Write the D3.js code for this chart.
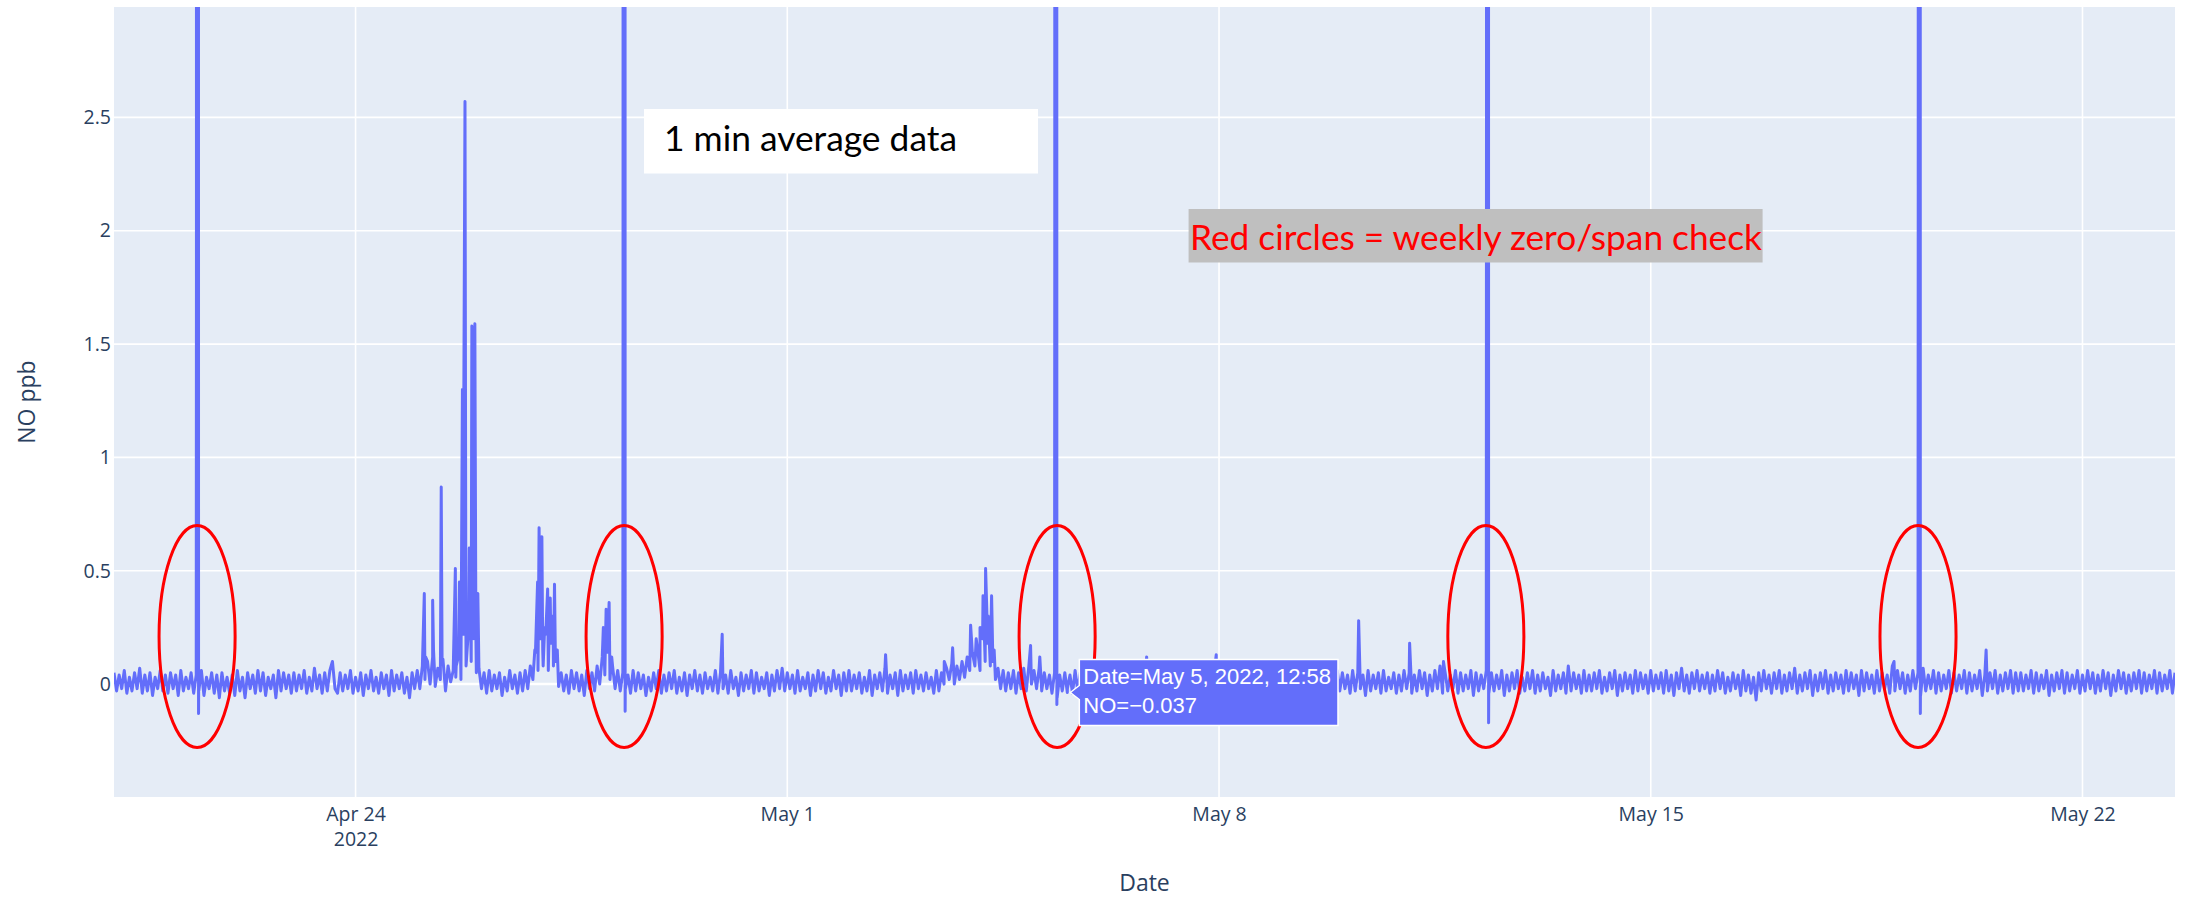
<!DOCTYPE html>
<html>
<head>
<meta charset="utf-8">
<script src="https://cdn.jsdelivr.net/npm/d3@7"></script>
<style>
  body { margin: 0; background: #fff; }
  svg { display: block; }
</style>
</head>
<body>
<div id="chart"></div>
<script>
// NO ppb, 1 min average data, read off the picture as the upper/lower edge of the noise band, one value per hour
const startTime = "2022-04-20 02:00";
const noHourly = [
  0.05,-0.03,0.04,-0.02,0.06,-0.04,0.03,-0.03,0.05,-0.02,0.07,-0.04,0.04,-0.03,0.05,-0.05,0.03,-0.02,0.06,-0.03,0.04,-0.04,
  0.05,-0.02,0.04,-0.05,0.06,-0.03,0.03,-0.02,0.05,-0.04,0.04,-0.03,0.06,-0.05,0.03,-0.02,0.05,-0.04,0.04,-0.06,0.05,-0.03,0.03,-0.04,
  0.04,-0.05,0.06,-0.03,0.03,-0.06,0.05,-0.02,0.04,-0.04,0.06,-0.03,0.05,-0.05,0.03,-0.02,0.04,-0.06,0.06,-0.03,0.05,-0.02,0.04,-0.04,
  0.05,-0.03,0.04,-0.02,0.06,-0.04,0.03,-0.03,0.07,-0.02,0.04,-0.04,0.05,-0.03,0.06,0.10,-0.02,-0.04,0.05,-0.03,0.04,-0.02,0.06,-0.04,
  0.03,-0.03,0.05,-0.05,0.04,-0.02,0.06,-0.03,0.03,-0.04,0.05,-0.02,0.04,-0.05,0.06,-0.03,0.04,-0.02,0.05,-0.04,0.03,-0.06,0.05,-0.02,
  0.06,-0.02,0.08,0.02,0.10,0.00,0.12,-0.01,0.07,0.02,0.11,-0.03,0.08,0.01,0.06,0.03,0.12,0.02,0.22,0.08,0.25,0.10,0.20,0.05,
  0.07,-0.02,0.05,-0.04,0.06,-0.03,0.04,-0.02,0.05,-0.05,0.03,-0.03,0.06,-0.02,0.04,-0.04,0.05,-0.03,0.06,-0.02,0.08,0.02,0.14,0.06,
  0.20,0.08,0.22,0.06,0.18,0.08,0.10,-0.01,0.05,-0.03,0.04,-0.04,0.06,-0.02,0.05,-0.03,0.04,-0.05,0.06,-0.02,0.05,-0.03,0.08,0.00,
  0.12,0.04,0.14,0.02,0.08,-0.02,0.06,-0.03,0.05,-0.02,0.04,-0.04,0.06,-0.03,0.05,-0.02,0.04,-0.05,0.03,-0.03,0.05,-0.02,0.06,-0.04,
  0.04,-0.03,0.05,-0.02,0.06,-0.04,0.03,-0.03,0.05,-0.05,0.04,-0.02,0.06,-0.03,0.04,-0.04,0.05,-0.02,0.03,-0.03,0.06,-0.04,0.05,-0.02,
  0.04,-0.04,0.06,-0.02,0.03,-0.05,0.05,-0.03,0.04,-0.02,0.06,-0.04,0.05,-0.03,0.03,-0.02,0.05,-0.05,0.04,-0.03,0.06,-0.02,0.07,-0.03,
  0.05,-0.02,0.04,-0.04,0.06,-0.03,0.03,-0.02,0.05,-0.05,0.04,-0.03,0.06,-0.02,0.05,-0.04,0.03,-0.03,0.06,-0.02,0.04,-0.05,0.05,-0.03,
  0.06,-0.03,0.04,-0.02,0.05,-0.04,0.03,-0.03,0.06,-0.05,0.04,-0.02,0.05,-0.03,0.07,-0.04,0.04,-0.02,0.05,-0.05,0.06,-0.03,0.04,-0.02,
  0.05,-0.04,0.06,-0.02,0.04,-0.03,0.05,-0.02,0.03,-0.04,0.06,-0.03,0.05,0.00,0.07,0.02,0.09,0.00,0.08,0.02,0.10,0.03,0.12,0.06,
  0.14,0.08,0.16,0.06,0.20,0.10,0.18,0.08,0.10,0.02,0.07,-0.02,0.06,-0.03,0.05,-0.02,0.06,-0.04,0.05,-0.02,0.07,-0.03,0.08,0.00,
  0.06,-0.02,0.07,-0.03,0.05,-0.02,0.04,-0.04,0.05,-0.06,0.04,-0.03,0.05,-0.02,0.04,-0.04,0.06,-0.03,0.05,-0.02,0.04,-0.03,0.05,-0.04,
  0.05,-0.03,0.04,-0.02,0.06,-0.04,0.05,-0.03,0.03,-0.05,0.06,-0.02,0.04,-0.03,0.05,-0.04,0.06,-0.02,0.04,-0.03,0.05,-0.05,0.03,-0.02,
  0.06,-0.03,0.04,-0.05,0.05,-0.02,0.03,-0.04,0.06,-0.03,0.05,-0.02,0.04,-0.04,0.06,-0.03,0.05,-0.02,0.03,-0.05,0.06,-0.03,0.04,-0.02,
  0.05,-0.04,0.06,-0.02,0.04,-0.03,0.05,-0.05,0.03,-0.02,0.06,-0.04,0.05,-0.03,0.04,-0.02,0.06,-0.04,0.05,-0.06,0.04,-0.02,0.05,-0.03,
  0.04,-0.02,0.06,-0.04,0.05,-0.03,0.03,-0.02,0.06,-0.05,0.04,-0.03,0.05,-0.02,0.06,-0.04,0.04,-0.03,0.05,-0.02,0.03,-0.04,0.06,-0.03,
  0.05,-0.02,0.04,-0.04,0.06,-0.03,0.05,-0.02,0.04,-0.05,0.06,-0.03,0.04,-0.02,0.05,-0.04,0.06,-0.03,0.03,-0.02,0.05,-0.04,0.04,-0.03,
  0.06,-0.02,0.05,-0.04,0.04,-0.03,0.06,-0.02,0.05,-0.05,0.04,-0.03,0.06,-0.02,0.08,-0.04,0.05,-0.03,0.04,-0.02,0.06,-0.04,0.05,-0.03,
  0.04,-0.02,0.06,-0.05,0.05,-0.03,0.04,-0.02,0.06,-0.04,0.05,-0.03,0.04,-0.02,0.06,-0.05,0.04,-0.03,0.05,-0.02,0.06,-0.04,0.03,-0.03,
  0.05,-0.02,0.06,-0.04,0.04,-0.03,0.05,-0.02,0.03,-0.05,0.06,-0.03,0.04,-0.02,0.05,-0.04,0.07,-0.03,0.05,-0.02,0.04,-0.04,0.06,-0.03,
  0.04,-0.03,0.05,-0.02,0.06,-0.04,0.03,-0.03,0.05,-0.02,0.06,-0.05,0.04,-0.03,0.05,-0.02,0.04,-0.04,0.06,-0.03,0.05,-0.02,0.04,-0.04,
  0.06,-0.03,0.04,-0.02,0.05,-0.04,0.06,-0.03,0.04,-0.05,0.05,-0.02,0.07,-0.03,0.04,-0.04,0.05,-0.02,0.06,-0.03,0.04,-0.02,0.05,-0.04,
  0.04,-0.03,0.06,-0.02,0.05,-0.04,0.03,-0.03,0.05,-0.02,0.04,-0.05,0.06,-0.03,0.04,-0.04,0.03,-0.07,0.05,-0.03,0.06,-0.02,0.04,-0.04,
  0.05,-0.02,0.06,-0.04,0.04,-0.03,0.05,-0.02,0.07,-0.04,0.04,-0.03,0.05,-0.02,0.06,-0.05,0.04,-0.03,0.05,-0.02,0.06,-0.04,0.04,-0.03,
  0.05,-0.02,0.04,-0.04,0.06,-0.03,0.05,-0.02,0.04,-0.05,0.06,-0.03,0.05,-0.02,0.04,-0.04,0.06,-0.03,0.05,-0.02,0.04,-0.04,0.08,-0.03,
  0.06,-0.02,0.05,-0.04,0.04,-0.03,0.06,-0.02,0.05,-0.05,0.07,-0.03,0.04,-0.02,0.06,-0.04,0.05,-0.03,0.04,-0.02,0.06,-0.04,0.05,-0.03,
  0.04,-0.02,0.06,-0.04,0.05,-0.03,0.04,-0.02,0.06,-0.05,0.04,-0.03,0.05,-0.02,0.06,-0.04,0.04,-0.03,0.05,-0.02,0.06,-0.04,0.05,-0.03,
  0.05,-0.03,0.04,-0.02,0.06,-0.04,0.05,-0.03,0.04,-0.02,0.06,-0.05,0.04,-0.03,0.05,-0.02,0.06,-0.04,0.05,-0.03,0.04,-0.02,0.06,-0.04,
  0.04,-0.03,0.06,-0.02,0.05,-0.04,0.04,-0.03,0.06,-0.02,0.05,-0.05,0.04,-0.03,0.06,-0.02,0.05,-0.04,0.04,-0.03,0.05,-0.02,0.06,-0.04,
  0.05,-0.03,0.04,-0.02,0.06,-0.04,0.05,-0.03,0.04,-0.02,0.06,-0.04,0.05
];

// short events between the hourly readings: pollution peaks and the zero/span checks (span goes off scale)
const noEvents = [
  ["2022-04-21 10:05", 1.8], ["2022-04-21 10:06", 8], ["2022-04-21 10:50", 8], ["2022-04-21 10:54", -0.13], ["2022-04-21 10:58", 0.02],
  ["2022-04-25 02:45", 0.40], ["2022-04-25 03:15", 0.12], ["2022-04-25 06:00", 0.37], ["2022-04-25 06:20", 0.15],
  ["2022-04-25 09:20", 0.87], ["2022-04-25 09:40", 0.10], ["2022-04-25 14:50", 0.51], ["2022-04-25 15:10", 0.08],
  ["2022-04-25 16:25", 0.45], ["2022-04-25 17:35", 1.30], ["2022-04-25 18:00", 0.90], ["2022-04-25 18:35", 2.57],
  ["2022-04-25 18:55", 0.30], ["2022-04-25 20:15", 0.60], ["2022-04-25 21:15", 1.58], ["2022-04-25 21:30", 0.50],
  ["2022-04-25 21:45", 1.55], ["2022-04-25 22:05", 0.60], ["2022-04-25 22:25", 1.59], ["2022-04-25 22:50", 0.20],
  ["2022-04-25 23:35", 0.40],
  ["2022-04-26 21:45", 0.15], ["2022-04-26 22:50", 0.45], ["2022-04-26 23:25", 0.69], ["2022-04-26 23:50", 0.20],
  ["2022-04-27 00:30", 0.65], ["2022-04-27 00:50", 0.15], ["2022-04-27 01:35", 0.25], ["2022-04-27 02:45", 0.42],
  ["2022-04-27 03:10", 0.15], ["2022-04-27 03:45", 0.38], ["2022-04-27 04:50", 0.30], ["2022-04-27 05:25", 0.44],
  ["2022-04-27 05:45", 0.12], ["2022-04-27 06:30", 0.15],
  ["2022-04-28 00:25", 0.25], ["2022-04-28 01:30", 0.33], ["2022-04-28 02:40", 0.36], ["2022-04-28 03:40", 0.12],
  ["2022-04-28 08:05", 1.57], ["2022-04-28 08:06", 8], ["2022-04-28 08:50", 8], ["2022-04-28 08:54", -0.12], ["2022-04-28 08:58", 0.02],
  ["2022-04-29 22:40", 0.22],
  ["2022-05-02 14:15", 0.13],
  ["2022-05-03 13:05", 0.10], ["2022-05-03 16:20", 0.16], ["2022-05-03 23:20", 0.26], ["2022-05-04 01:30", 0.20],
  ["2022-05-04 03:00", 0.25], ["2022-05-04 04:10", 0.39], ["2022-05-04 05:10", 0.51], ["2022-05-04 06:10", 0.30],
  ["2022-05-04 07:30", 0.39], ["2022-05-04 08:30", 0.15], ["2022-05-04 22:40", 0.17], ["2022-05-05 02:15", 0.12],
  ["2022-05-05 08:05", 1.9], ["2022-05-05 08:06", 8], ["2022-05-05 08:50", 8], ["2022-05-05 08:54", -0.09], ["2022-05-05 08:58", 0.02],
  ["2022-05-05 12:58", -0.037],
  ["2022-05-06 19:50", 0.12], ["2022-05-07 22:55", 0.13],
  ["2022-05-10 06:20", 0.28], ["2022-05-11 02:10", 0.18], ["2022-05-11 15:20", 0.10],
  ["2022-05-12 08:05", 2.5], ["2022-05-12 08:06", 8], ["2022-05-12 08:50", 8], ["2022-05-12 08:54", -0.17], ["2022-05-12 08:58", 0.02],
  ["2022-05-13 15:55", 0.08],
  ["2022-05-18 22:40", 0.10],
  ["2022-05-19 08:05", 2.2], ["2022-05-19 08:06", 8], ["2022-05-19 08:50", 8], ["2022-05-19 08:54", -0.13], ["2022-05-19 08:58", 0.02],
  ["2022-05-20 10:30", 0.15]
];

const xTickDates = ["2022-04-24", "2022-05-01", "2022-05-08", "2022-05-15", "2022-05-22"];
const xTickLabels = [["Apr 24", "2022"], ["May 1"], ["May 8"], ["May 15"], ["May 22"]];
const yTickValues = [0, 0.5, 1, 1.5, 2, 2.5];
const yRange = [-0.498, 2.987];

// red circles round each weekly zero/span check
const circleCenters = ["2022-04-21 10:20", "2022-04-28 08:30", "2022-05-05 09:00", "2022-05-12 07:50", "2022-05-19 08:00"];
const circleHalfHours = 14.8;
const circleValueRange = [-0.28, 0.70];

const hoverPoint = { date: "2022-05-05 12:58", label: "May 5, 2022, 12:58", value: -0.037 };
const noteText = "1 min average data";
const circleNote = "Red circles = weekly zero/span check";

const width = 2190;
const height = 898;
const marginTop = 7;
const marginRight = 15;
const marginBottom = 101;
const marginLeft = 114;

const parseTime = d3.utcParse("%Y-%m-%d %H:%M");
const parseDay = d3.utcParse("%Y-%m-%d");
const t0 = parseTime(startTime);

const series = noHourly.map((v, i) => ({ date: new Date(+t0 + i * 3600e3), value: v }))
    .concat(noEvents.map(([t, v]) => ({ date: parseTime(t), value: v })))
    .sort((a, b) => a.date - b.date);

const x = d3.scaleUtc()
    .domain(d3.extent(series, d => d.date))
    .range([marginLeft, width - marginRight]);

const y = d3.scaleLinear()
    .domain(yRange)
    .range([height - marginBottom, marginTop]);

const svg = d3.select("#chart").append("svg")
    .attr("width", width)
    .attr("height", height)
    .attr("viewBox", [0, 0, width, height]);

svg.append("defs").append("clipPath")
    .attr("id", "plot-clip")
    .append("rect")
    .attr("x", marginLeft)
    .attr("y", marginTop)
    .attr("width", width - marginLeft - marginRight)
    .attr("height", height - marginTop - marginBottom);

svg.append("rect")
    .attr("x", marginLeft)
    .attr("y", marginTop)
    .attr("width", width - marginLeft - marginRight)
    .attr("height", height - marginTop - marginBottom)
    .attr("fill", "#e5ecf6");

// grid
svg.append("g")
    .selectAll("line")
    .data(xTickDates.map(parseDay))
    .join("line")
    .attr("x1", d => x(d)).attr("x2", d => x(d))
    .attr("y1", marginTop).attr("y2", height - marginBottom)
    .attr("stroke", "#fff")
    .attr("stroke-width", 1.6);

svg.append("g")
    .selectAll("line")
    .data(yTickValues)
    .join("line")
    .attr("x1", marginLeft).attr("x2", width - marginRight)
    .attr("y1", d => y(d)).attr("y2", d => y(d))
    .attr("stroke", "#fff")
    .attr("stroke-width", d => d === 0 ? 2.5 : 1.6);

// axes
const yAxis = svg.append("g")
    .attr("transform", `translate(${marginLeft},0)`)
    .call(d3.axisLeft(y).tickValues(yTickValues).tickSize(0).tickPadding(3).tickFormat(d => String(d)))
    .call(g => g.select(".domain").remove());
yAxis.selectAll("text")
    .attr("fill", "#2a3f5f")
    .style("font", "19.5px 'Open Sans', sans-serif");

const xAxis = svg.append("g")
    .attr("transform", `translate(0,${height - marginBottom})`)
    .call(d3.axisBottom(x).tickValues(xTickDates.map(parseDay)).tickSize(0).tickFormat(""))
    .call(g => g.select(".domain").remove());
xAxis.selectAll(".tick text")
    .attr("fill", "#2a3f5f")
    .attr("y", 0)
    .attr("dy", 0)
    .style("font", "19.5px 'Open Sans', sans-serif")
    .each(function (d, i) {
        const t = d3.select(this);
        xTickLabels[i].forEach((s, k) => {
            t.append("tspan").attr("x", 0).attr("y", 23.7 + k * 25.3).text(s);
        });
    });

svg.append("text")
    .attr("x", (marginLeft + width - marginRight) / 2)
    .attr("y", 891)
    .attr("text-anchor", "middle")
    .attr("fill", "#2a3f5f")
    .style("font", "23px 'Open Sans', sans-serif")
    .text("Date");

svg.append("text")
    .attr("transform", `translate(35,${(marginTop + height - marginBottom) / 2}) rotate(-90)`)
    .attr("text-anchor", "middle")
    .attr("fill", "#2a3f5f")
    .style("font", "23px 'Open Sans', sans-serif")
    .text("NO ppb");

// NO line
const line = d3.line()
    .x(d => x(d.date))
    .y(d => y(d.value));

svg.append("path")
    .datum(series)
    .attr("clip-path", "url(#plot-clip)")
    .attr("fill", "none")
    .attr("stroke", "#636efa")
    .attr("stroke-width", 3)
    .attr("stroke-linejoin", "round")
    .attr("d", line);

// red ellipses
svg.append("g")
    .selectAll("ellipse")
    .data(circleCenters.map(parseTime))
    .join("ellipse")
    .attr("cx", d => x(d))
    .attr("cy", y((circleValueRange[0] + circleValueRange[1]) / 2))
    .attr("rx", d => x(new Date(+d + circleHalfHours * 3600e3)) - x(d))
    .attr("ry", (y(circleValueRange[0]) - y(circleValueRange[1])) / 2)
    .attr("fill", "none")
    .attr("stroke", "#ff0000")
    .attr("stroke-width", 3);

// notes
svg.append("rect")
    .attr("x", 644).attr("y", 109)
    .attr("width", 394).attr("height", 64.5)
    .attr("fill", "#fff");
svg.append("text")
    .attr("x", 664).attr("y", 151)
    .attr("fill", "#000")
    .attr("textLength", 293)
    .attr("lengthAdjust", "spacingAndGlyphs")
    .style("font", "34px Lato, sans-serif")
    .text(noteText);

svg.append("rect")
    .attr("x", 1188.6).attr("y", 209)
    .attr("width", 574).attr("height", 53.5)
    .attr("fill", "#bfbfbf");
svg.append("text")
    .attr("x", 1190).attr("y", 250)
    .attr("fill", "#ff0000")
    .attr("textLength", 572)
    .attr("lengthAdjust", "spacingAndGlyphs")
    .style("font", "35px Lato, sans-serif")
    .text(circleNote);

// hover label
const tip = svg.append("g")
    .attr("transform", `translate(${x(parseTime(hoverPoint.date)) + 3},${y(hoverPoint.value)})`);
const tipPath = tip.append("path")
    .attr("fill", "#636efa")
    .attr("stroke", "#fff")
    .attr("stroke-width", 1.5);
const tipText = tip.append("text")
    .attr("fill", "#fff")
    .style("font", "22px 'Liberation Sans', Arial, sans-serif");
tipText.append("tspan").attr("x", 13).attr("y", -8).text(`Date=${hoverPoint.label}`);
tipText.append("tspan").attr("x", 13).attr("y", 21).text(`NO=${hoverPoint.value.toFixed(3).replace("-", "\u2212")}`);
const tw = tipText.node().getBBox().width;
tipPath.attr("d", `M0,0L9,-7V-33H${20 + tw}V33H9V7Z`);
</script>
</body>
</html>
